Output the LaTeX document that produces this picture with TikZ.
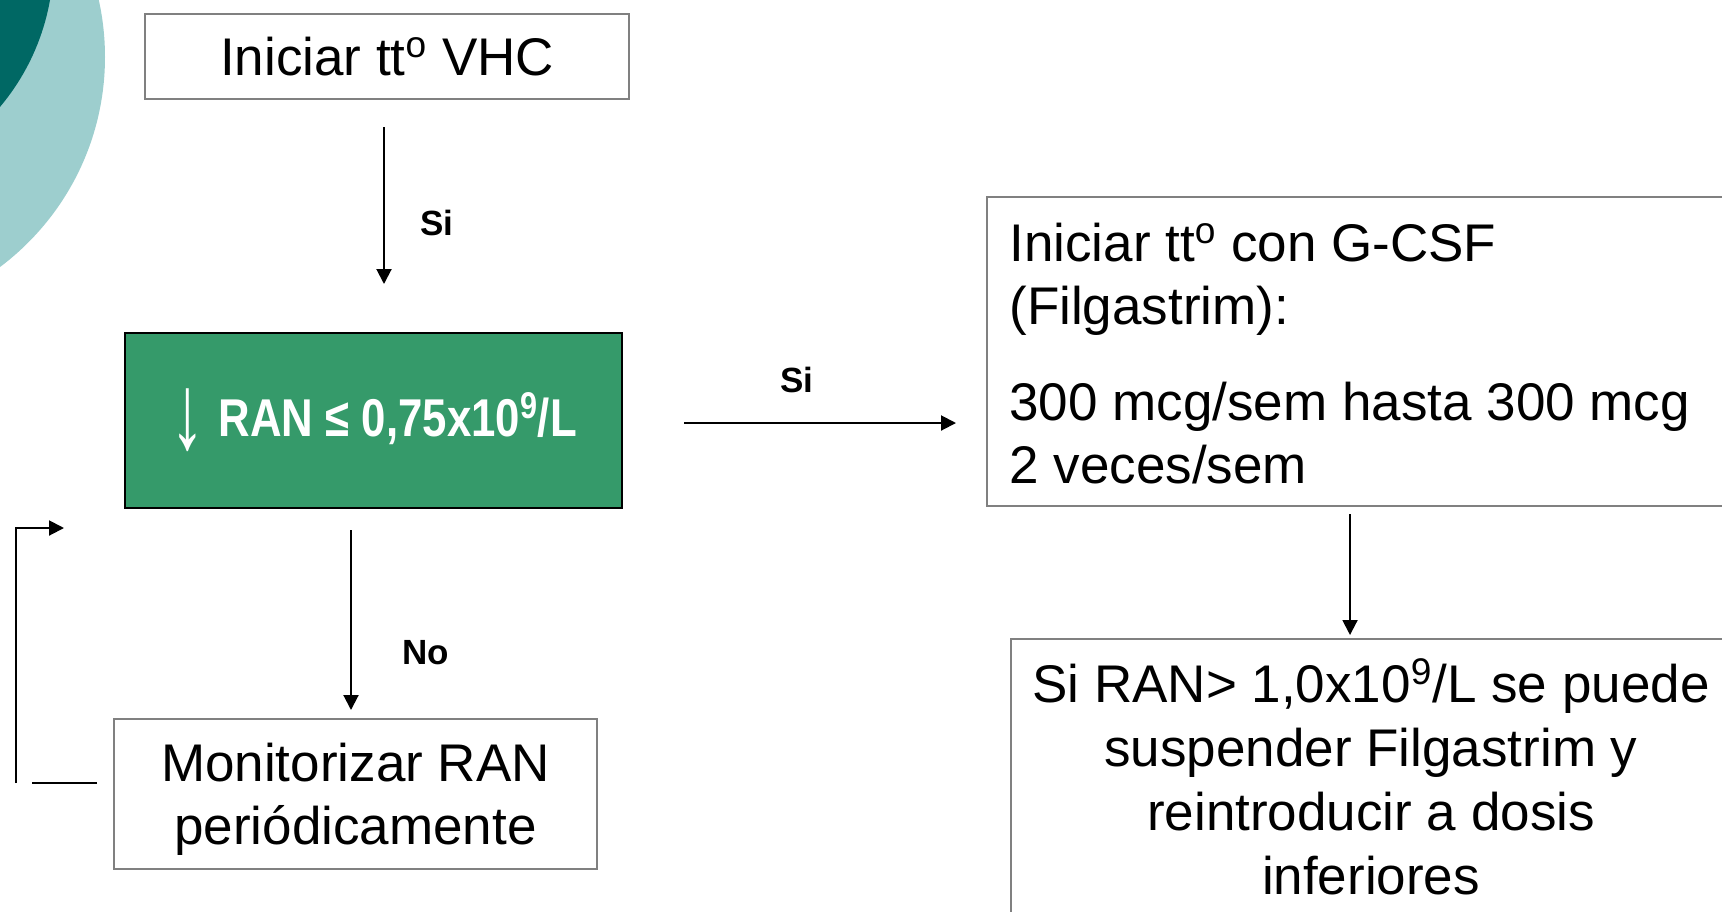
\documentclass[tikz,border=0pt]{standalone}
\usepackage{graphicx}
\usepackage{fontspec}
\setmainfont{Liberation Sans}
\usetikzlibrary{arrows.meta,calc}
\definecolor{tealdark}{RGB}{0,104,100}
\definecolor{teallight}{RGB}{157,206,206}
\definecolor{boxgreen}{RGB}{53,154,106}
\definecolor{boxgray}{RGB}{128,128,128}
\begin{document}
\begin{tikzpicture}[x=0.5pt,y=-0.5pt,
  box/.style={draw=boxgray, line width=1pt, fill=white, inner sep=0pt},
  body/.style={font=\fontsize{26.5}{31.5}\selectfont, inner sep=0pt},
  lbl/.style={font=\fontsize{17.5}{20}\selectfont\bfseries, inner sep=0pt},
  arr/.style={draw=black, line width=1pt, -{Triangle[length=7.5pt,width=7.5pt]}},
  link/.style={draw=black, line width=1pt}]
\useasboundingbox (0,0) rectangle (1722,911);

% decorative discs in the top left corner
\fill[teallight] (-157.5,57) circle[radius=131.25pt];
\fill[tealdark] (-175,-40) circle[radius=114.25pt];

% boxes
\node[box, body, minimum width=242pt, minimum height=42.5pt] (vhc) at (387,56.5)
  {Iniciar tt\textsuperscript{o} VHC};
\node[draw=black, fill=boxgreen, line width=1pt, inner sep=0pt, text=white,
      minimum width=248.5pt, minimum height=87.5pt,
      font=\fontsize{26.6}{30}\selectfont\bfseries] (ran) at (373.5,420.5)
  {{\mdseries\raisebox{-6pt}{\scalebox{1.3}[2.0]{↓}}}\hspace{7pt}\resizebox{179pt}{\height}{RAN ≤ 0,75x10\textsuperscript{9}/L}};
\node[box, minimum width=241.5pt, minimum height=75pt] (mon) at (355.5,794) {};
\node[body, align=center] (montxt) at (355.5,799)
  {Monitorizar RAN\\periódicamente};
\node[box, minimum width=374pt, minimum height=154.5pt] (gcsf) at (1361,351.5) {};
\node[body, anchor=west, align=left] (gcsftxt) at (1009,354)
  {Iniciar tt\textsuperscript{o} con G-CSF\\(Filgastrim):\\[16.5pt]300 mcg/sem hasta 300 mcg\\2 veces/sem};
\node[box, anchor=north west, minimum width=361pt, minimum height=150pt] (susp) at (1010,638) {};
\node[body, align=center, font=\fontsize{26.5}{32}\selectfont] (susptxt) at (1371,776.5)
  {Si RAN> 1,0x10\textsuperscript{9}/L se puede\\suspender Filgastrim y\\reintroducir a dosis\\inferiores};

% connector labels
\node[lbl] (si1) at (437,223) {Si};
\node[lbl] (no) at (426,653) {No};
\node[lbl] (si2) at (797,380) {Si};

% connectors
\draw[arr] ($(vhc.south)+(-3,27)$) -- ($(vhc.south |- ran.north)+(-3,-48)$);
\draw[arr] ($(ran.south)+(-22.5,21)$) -- ($(ran.south |- mon.north)+(-22.5,-8)$);
\draw[arr] ($(ran.east)+(61,2.5)$) -- ($(gcsf.west |- ran.east)+(-30,2.5)$);
\draw[arr] ($(gcsf.south)+(-11,7)$) -- ($(gcsf.south |- susp.north)+(-11,-3)$);

% loop back from monitoring
\draw[link] ($(mon.west)+(-16,-11)$) -- ($(mon.west)+(-81,-11)$);
\coordinate (fbstart) at ($(mon.west)+(-97,-11)$);
\coordinate (fbend) at ($(ran.south west)+(-60,19)$);
\draw[arr] (fbstart) |- (fbend);
\end{tikzpicture}
\end{document}
